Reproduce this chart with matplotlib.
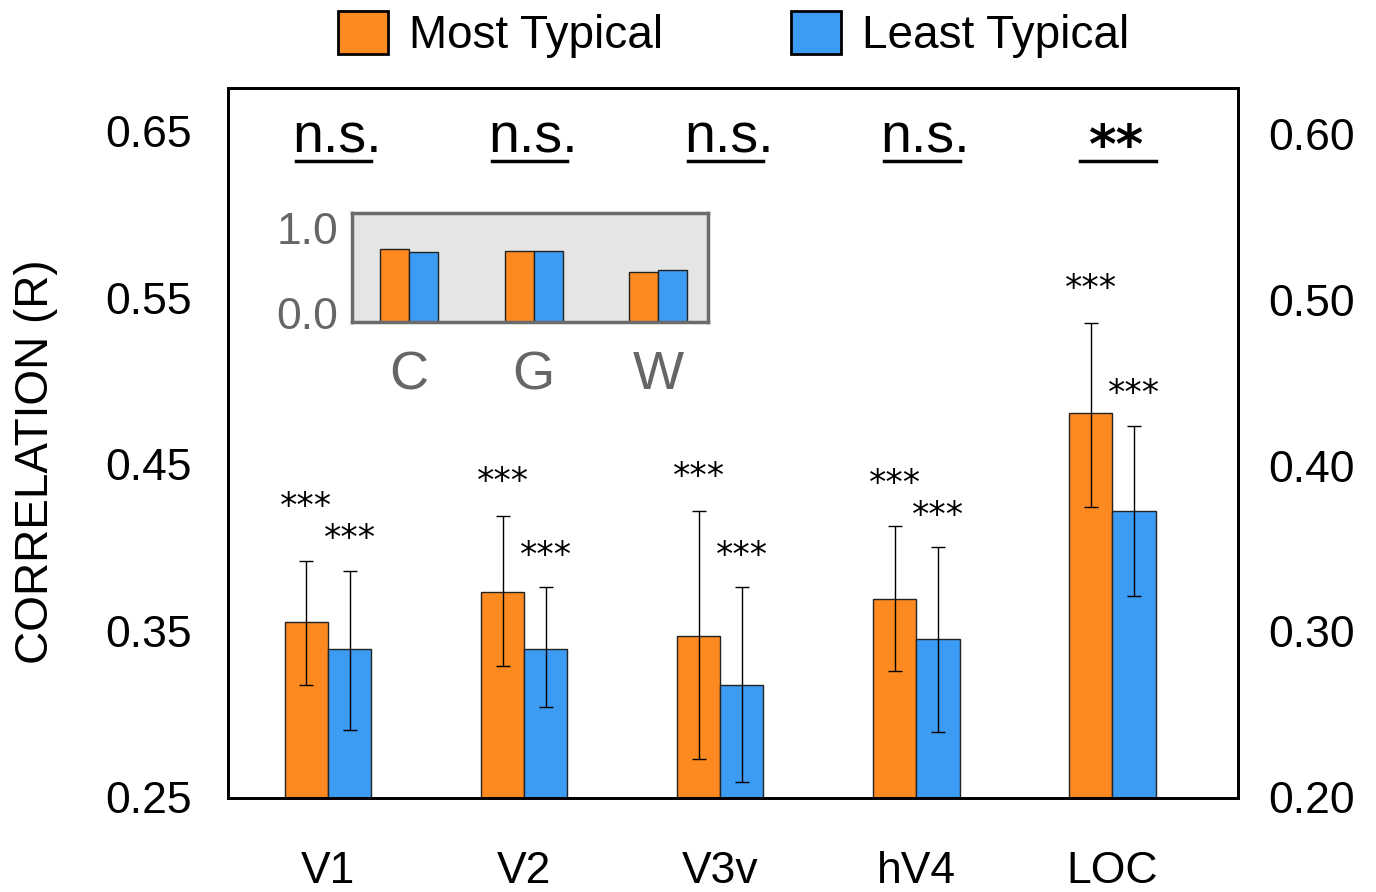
import numpy as np
import matplotlib.pyplot as plt
from matplotlib.patches import Patch
from matplotlib.transforms import ScaledTranslation

plt.rcParams['font.family'] = ['Liberation Sans', 'DejaVu Sans']

# main chart data
regions = ['V1', 'V2', 'V3v', 'hV4', 'LOC']
most_typ = [0.355, 0.373, 0.347, 0.369, 0.481]
most_lo = [0.317, 0.329, 0.273, 0.326, 0.424]
most_hi = [0.392, 0.419, 0.422, 0.413, 0.535]
least_typ = [0.339, 0.339, 0.317, 0.345, 0.422]
least_lo = [0.290, 0.304, 0.259, 0.289, 0.371]
least_hi = [0.386, 0.376, 0.376, 0.400, 0.473]
most_stars = ['***', '***', '***', '***', '***']
least_stars = ['***', '***', '***', '***', '***']
group_sig = ['n.s.', 'n.s.', 'n.s.', 'n.s.', '**']

left_ticks = [0.25, 0.35, 0.45, 0.55, 0.65]
right_ticks = [0.20, 0.30, 0.40, 0.50, 0.60]

# inset data
inset_cats = ['C', 'G', 'W']
inset_most = [0.77, 0.75, 0.53]
inset_least = [0.74, 0.75, 0.555]

ORANGE = '#FC8A20'
BLUE = '#3C9BF2'

fig = plt.figure(figsize=(13.76, 8.92), dpi=100)
ax = fig.add_axes([0.1657, 0.1054, 0.734, 0.7959])

x = np.arange(len(regions))
w = 0.22
err_kw = dict(ecolor='black', elinewidth=1, capsize=5, capthick=1)
most_err = [np.subtract(most_typ, most_lo), np.subtract(most_hi, most_typ)]
least_err = [np.subtract(least_typ, least_lo), np.subtract(least_hi, least_typ)]
ax.bar(x - w / 2, most_typ, w, color=ORANGE, edgecolor='#222222', lw=1,
       yerr=most_err, error_kw=err_kw)
ax.bar(x + w / 2, least_typ, w, color=BLUE, edgecolor='#222222', lw=1,
       yerr=least_err, error_kw=err_kw)

ax.set_xlim(-0.51, 4.64)
ax.set_ylim(0.2494, 0.676)
ax.set_xticks(x)
ax.set_xticklabels(regions)
ax.set_yticks(left_ticks)
ax.set_yticklabels([f'{t:.2f}' for t in left_ticks])
ax.tick_params(axis='both', length=0, labelsize=32)
ax.tick_params(axis='y', pad=26)
ax.tick_params(axis='x', pad=38)
for s in ax.spines.values():
    s.set_linewidth(2)
ax.set_ylabel('CORRELATION (R)', fontsize=33)
ax.yaxis.set_label_coords(-0.168, 0.473)

ax2 = ax.twinx()
ax2.set_ylim(0.1994, 0.628)
ax2.set_yticks(right_ticks)
ax2.set_yticklabels([f'{t:.2f}' for t in right_ticks])
ax2.tick_params(axis='y', length=0, labelsize=32, pad=22)
for s in ax2.spines.values():
    s.set_linewidth(2)

# stars over each bar (gap above the error bar)
most_gap = [0.026, 0.014, 0.014, 0.019, 0.014]
for i in range(len(regions)):
    ax.text(x[i] - w / 2, most_hi[i] + most_gap[i], most_stars[i], ha='center',
            va='baseline', fontsize=25, family='DejaVu Sans')
    ax.text(x[i] + w / 2, least_hi[i] + 0.013, least_stars[i], ha='center',
            va='baseline', fontsize=25, family='DejaVu Sans')

# group comparison labels
for i, lab in enumerate(group_sig):
    if lab == '**':
        ax.text(x[i] + 0.02, 0.631, lab, ha='center', va='baseline', fontsize=38,
                family='DejaVu Sans', fontweight='bold')
    else:
        ax.text(x[i] + 0.045, 0.637, lab, ha='center', va='baseline', fontsize=40)
    ax.plot([x[i] - 0.165, x[i] + 0.22], [0.632, 0.632], color='black', lw=2.5)

# inset
axin = ax.inset_axes([0.1228, 0.670, 0.3525, 0.1535])
axin.set_facecolor('#e5e5e5')
xi = np.arange(len(inset_cats))
wi = 0.233
axin.bar(xi - wi / 2, inset_most, wi, color=ORANGE, edgecolor='#222222', lw=1)
axin.bar(xi + wi / 2, inset_least, wi, color=BLUE, edgecolor='#222222', lw=1)
axin.set_xlim(-0.458, 2.40)
axin.set_ylim(0, 1.15)
axin.set_xticks(xi)
axin.set_xticklabels(inset_cats)
axin.set_yticks([0, 1])
axin.set_yticklabels(['0.0', '1.0'])
axin.tick_params(axis='both', length=0, colors='#666666')
axin.tick_params(axis='y', labelsize=32, pad=10)
axin.tick_params(axis='x', labelsize=39, pad=20)
for s in axin.spines.values():
    s.set_linewidth(2.5)
    s.set_color('#6b6b6b')
lab0 = axin.get_yticklabels()[0]
lab0.set_transform(lab0.get_transform() + ScaledTranslation(0, 9 / 100, fig.dpi_scale_trans))

handles = [Patch(facecolor=ORANGE, edgecolor='black', lw=2, label='Most Typical'),
           Patch(facecolor=BLUE, edgecolor='black', lw=2, label='Least Typical')]
fig.legend(handles=handles, loc='center', bbox_to_anchor=(0.533, 0.961), ncol=2,
           frameon=False, fontsize=33, handlelength=1.1, handleheight=1.05,
           handletextpad=0.45, columnspacing=2.8)

fig.savefig('out.png', dpi=100, facecolor='white')
